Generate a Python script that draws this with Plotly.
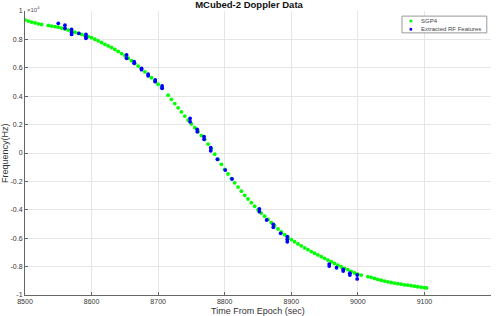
import plotly.graph_objects as go

# SGP4 predicted Doppler (units of 1e4 Hz)
sgp4_t = [8500, 8505, 8510, 8515, 8520, 8525, 8535, 8540, 8545, 8550, 8555, 8560, 8565, 8570,
          8575, 8580, 8585, 8590, 8595, 8600, 8605, 8610, 8615, 8620, 8625, 8630, 8635, 8640,
          8645, 8650, 8655, 8660, 8665, 8670, 8675, 8680, 8685, 8690, 8695, 8700, 8705, 8715,
          8720, 8725, 8730, 8735, 8740, 8745, 8750, 8755, 8760, 8765, 8770, 8775, 8780, 8785,
          8790, 8795, 8800, 8805, 8810, 8815, 8820, 8825, 8830, 8835, 8840, 8845, 8850, 8855,
          8860, 8865, 8870, 8875, 8880, 8885, 8890, 8895, 8900, 8905, 8910, 8915, 8920, 8925,
          8930, 8935, 8940, 8945, 8950, 8955, 8960, 8965, 8970, 8975, 8980, 8985, 8990, 8995,
          9000, 9005, 9015, 9020, 9025, 9030, 9035, 9040, 9045, 9050, 9055, 9060, 9065, 9070,
          9075, 9080, 9085, 9090, 9095, 9100, 9103]
sgp4_f = [0.937, 0.929, 0.922, 0.916, 0.910, 0.905, 0.898, 0.894, 0.890, 0.886, 0.880, 0.873,
          0.866, 0.858, 0.851, 0.843, 0.836, 0.828, 0.820, 0.812, 0.801, 0.790, 0.778, 0.765,
          0.754, 0.743, 0.729, 0.715, 0.700, 0.685, 0.668, 0.650, 0.631, 0.612, 0.592, 0.572,
          0.551, 0.530, 0.507, 0.484, 0.460, 0.407, 0.378, 0.348, 0.318, 0.289, 0.260, 0.232,
          0.205, 0.178, 0.150, 0.123, 0.095, 0.063, 0.030, -0.008, -0.045, -0.080, -0.115,
          -0.148, -0.180, -0.210, -0.240, -0.269, -0.298, -0.324, -0.350, -0.375, -0.400,
          -0.423, -0.445, -0.468, -0.490, -0.512, -0.535, -0.556, -0.575, -0.593, -0.610,
          -0.625, -0.640, -0.654, -0.668, -0.681, -0.694, -0.706, -0.718, -0.730, -0.742,
          -0.754, -0.766, -0.778, -0.790, -0.801, -0.812, -0.822, -0.834, -0.845, -0.854,
          -0.860, -0.870, -0.876, -0.883, -0.890, -0.896, -0.902, -0.907, -0.912, -0.916,
          -0.920, -0.924, -0.928, -0.931, -0.934, -0.938, -0.942, -0.945, -0.948, -0.950]

# Extracted RF features (units of 1e4 Hz)
rf_t = [8550, 8560, 8560, 8570, 8570, 8570, 8581, 8591.6, 8591.6, 8591.6,
        8652.6, 8652.6, 8664, 8664, 8675, 8675, 8685, 8685, 8695.6, 8695.6, 8706, 8706,
        8748, 8748, 8758.7, 8758.7, 8769, 8769, 8779, 8779, 8789, 8800.8, 8811,
        8852, 8852, 8863, 8873, 8873, 8884, 8894, 8894, 8894,
        8957, 8957, 8968, 8978, 8978, 8988, 8988, 8999, 8999]
rf_f = [0.913, 0.900, 0.878, 0.870, 0.850, 0.835, 0.843, 0.836, 0.819, 0.808,
        0.690, 0.667, 0.643, 0.632, 0.596, 0.587, 0.556, 0.544, 0.514, 0.502, 0.472, 0.456,
        0.244, 0.220, 0.167, 0.150, 0.115, 0.096, 0.037, 0.016, -0.044, -0.120, -0.183,
        -0.394, -0.413, -0.472, -0.502, -0.523, -0.566, -0.589, -0.608, -0.625,
        -0.782, -0.796, -0.808, -0.819, -0.831, -0.847, -0.859, -0.859, -0.887]

series_names = ["SGP4", "Extracted RF Features"]
series_colors = ["#00ff00", "#0000ff"]

x_ticks = [8500, 8600, 8700, 8800, 8900, 9000, 9100, 9200]
y_ticks = [-1, -0.8, -0.6, -0.4, -0.2, 0, 0.2, 0.4, 0.6, 0.8, 1]
y_labels = ["-1", "-0.8", "-0.6", "-0.4", "-0.2", "0", "0.2", "0.4", "0.6", "0.8", "1"]

FONT = "Liberation Sans, Arial, sans-serif"

fig = go.Figure()
fig.add_trace(go.Scatter(x=sgp4_t, y=sgp4_f, mode="markers", name=series_names[0],
                         marker=dict(color=series_colors[0], size=3.8, line=dict(width=0))))
fig.add_trace(go.Scatter(x=rf_t, y=rf_f, mode="markers", name=series_names[1],
                         marker=dict(color=series_colors[1], size=3.8, line=dict(width=0))))

# compact MATLAB-style legend drawn with shapes + annotations
shapes = [dict(type="rect", xref="paper", yref="paper", x0=0.809, x1=0.991, y0=0.923, y1=0.982,
               line=dict(color="#999999", width=1), fillcolor="white", layer="above")]
annotations = []
leg_y = [0.965, 0.936]
for name, col, ly in zip(series_names, series_colors, leg_y):
    shapes.append(dict(type="circle", xref="paper", yref="paper", xsizemode="pixel",
                       ysizemode="pixel", xanchor=0.828, yanchor=ly, x0=-1.5, x1=1.5,
                       y0=-1.5, y1=1.5, fillcolor=col, line=dict(width=0), layer="above"))
    annotations.append(dict(text=name, x=0.846, y=ly, xref="paper", yref="paper",
                            xanchor="left", yanchor="middle", showarrow=False,
                            font=dict(size=6, color="#444444", family=FONT)))

annotations += [
    dict(text="Time From Epoch (sec)", x=0.5, y=0, xref="paper", yref="paper",
         xanchor="center", yanchor="top", yshift=-9, showarrow=False,
         font=dict(size=9, color="#333333", family=FONT)),
    dict(text="Frequency(Hz)", x=0, y=0.5, xref="paper", yref="paper",
         xanchor="center", yanchor="middle", xshift=-20, textangle=-90, showarrow=False,
         font=dict(size=9, color="#333333", family=FONT)),
    dict(text="\u00d710<sup>4</sup>", x=0, y=1, xref="paper", yref="paper",
         xanchor="left", yanchor="bottom", xshift=0, yshift=-4, showarrow=False,
         font=dict(size=6, color="#555555", family=FONT)),
]

fig.update_layout(
    width=498, height=316,
    margin=dict(l=25, r=7, t=11, b=21),
    paper_bgcolor="white", plot_bgcolor="white",
    font=dict(family=FONT, size=7, color="#333333"),
    showlegend=False,
    title=dict(text="<b>MCubed-2 Doppler Data</b>", x=0.5, xanchor="center",
               y=0.997, yanchor="top", pad=dict(t=0, b=0),
               font=dict(size=9.5, color="#111111", family=FONT)),
    shapes=shapes,
    annotations=annotations,
)
fig.update_xaxes(range=[8500, 9200], tickvals=x_ticks, showgrid=True, gridcolor="#e6e6e6",
                 gridwidth=1, zeroline=False, showline=True, linecolor="#666666", linewidth=1,
                 ticks="inside", ticklen=3, tickcolor="#666666", tickfont=dict(size=7),
                 mirror=False, automargin=False)
fig.update_yaxes(range=[-1, 1], tickvals=y_ticks, ticktext=y_labels, showgrid=True,
                 gridcolor="#e6e6e6", gridwidth=1, zeroline=False, showline=True,
                 linecolor="#666666", linewidth=1, ticks="inside", ticklen=3,
                 tickcolor="#666666", tickfont=dict(size=7), mirror=False, automargin=False)

fig.write_html("out.html", config={"displayModeBar": False},
               post_script="document.body.style.margin='0';")
